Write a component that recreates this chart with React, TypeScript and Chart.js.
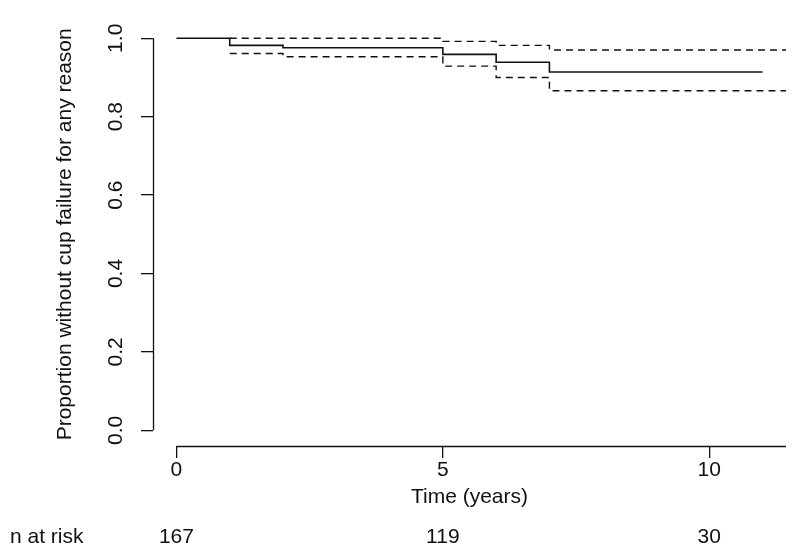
import React, { useEffect, useRef } from 'react';
import { Chart, registerables } from 'chart.js';

Chart.register(...registerables);

// Kaplan-Meier estimate (step values after each event time)
const timesEst = [0, 1, 2, 5, 6, 7, 11];
const survEst = [1, 0.982, 0.976, 0.959, 0.939, 0.914, 0.914];
// Upper confidence limit
const timesUpper = [1, 5, 6, 7, 11.44];
const survUpper = [1, 0.992, 0.982, 0.97, 0.97];
// Lower confidence limit
const timesLower = [1, 2, 5, 6, 7, 11.44];
const survLower = [0.961, 0.953, 0.929, 0.9, 0.866, 0.866];

const xTicks = [0, 5, 10];
const yTicks = [0, 0.2, 0.4, 0.6, 0.8, 1.0];
const riskTimes = [0, 5, 10];
const riskCounts = [167, 119, 30];

const X_MIN = -0.44;
const X_MAX = 11.44;
const Y_MIN = -0.04;
const Y_MAX = 1.04;

const FONT = "'Liberation Sans', Arial, Helvetica, sans-serif";
const INK = '#111111';

const toPts = (xs: number[], ys: number[]) => xs.map((x, i) => ({ x, y: ys[i] }));

const axisPlugin = {
  id: 'rAxes',
  afterDraw(chart: any) {
    const { ctx } = chart;
    const xs = chart.scales.x;
    const ys = chart.scales.y;
    ctx.save();
    ctx.strokeStyle = INK;
    ctx.lineWidth = 1.3;
    ctx.beginPath();
    // y axis line from first to last tick
    const yx = Math.round(chart.chartArea.left) + 0.5;
    ctx.moveTo(yx, ys.getPixelForValue(yTicks[0]));
    ctx.lineTo(yx, ys.getPixelForValue(yTicks[yTicks.length - 1]));
    // x axis line from 0 to the right edge
    const xy = Math.round(chart.chartArea.bottom) + 0.5;
    ctx.moveTo(xs.getPixelForValue(xTicks[0]), xy);
    ctx.lineTo(xs.getPixelForValue(X_MAX), xy);
    ctx.stroke();

    // number at risk row
    ctx.fillStyle = INK;
    ctx.font = `21px ${FONT}`;
    ctx.textBaseline = 'middle';
    ctx.textAlign = 'left';
    const rowY = 537;
    ctx.fillText('n at risk', 10, rowY);
    ctx.textAlign = 'center';
    riskTimes.forEach((t, i) => {
      ctx.fillText(String(riskCounts[i]), xs.getPixelForValue(t), rowY);
    });
    ctx.restore();
  },
};

export default function App() {
  const ref = useRef<HTMLCanvasElement | null>(null);

  useEffect(() => {
    if (!ref.current) return;
    const lineBase = {
      borderColor: INK,
      backgroundColor: INK,
      stepped: 'before' as const,
      pointRadius: 0,
      fill: false,
      tension: 0,
    };
    const chart = new Chart(ref.current, {
      type: 'line',
      data: {
        datasets: [
          { ...lineBase, label: 'Estimate', data: toPts(timesEst, survEst), borderWidth: 1.6 },
          { ...lineBase, label: 'Upper', data: toPts(timesUpper, survUpper), borderWidth: 1.4, borderDash: [7, 5] },
          { ...lineBase, label: 'Lower', data: toPts(timesLower, survLower), borderWidth: 1.4, borderDash: [7, 5] },
        ],
      },
      options: {
        responsive: false,
        animation: false,
        events: [],
        layout: { padding: { left: 0, top: 17, right: 14, bottom: 0 } },
        plugins: { legend: { display: false }, tooltip: { enabled: false }, title: { display: false } },
        scales: {
          x: {
            type: 'linear',
            min: X_MIN,
            max: X_MAX,
            afterBuildTicks: (s: any) => { s.ticks = xTicks.map((v) => ({ value: v })); },
            afterFit: (s: any) => { s.height = 108; s.paddingLeft = 0; s.paddingRight = 0; },
            border: { display: false },
            grid: { display: true, drawOnChartArea: false, drawTicks: true, tickLength: 12, color: INK, lineWidth: 1.3 },
            ticks: {
              padding: 0,
              color: INK,
              font: { family: FONT, size: 21 },
              maxRotation: 0,
              minRotation: 0,
              autoSkip: false,
              callback: (v: any) => String(v),
            },
            title: {
              display: true,
              text: 'Time (years)',
              color: INK,
              font: { family: FONT, size: 21 },
              padding: { top: 0, bottom: 44 },
            },
          },
          y: {
            type: 'linear',
            min: Y_MIN,
            max: Y_MAX,
            afterBuildTicks: (s: any) => { s.ticks = yTicks.map((v) => ({ value: v })); },
            afterFit: (s: any) => { s.width = 153; },
            border: { display: false },
            grid: { display: true, drawOnChartArea: false, drawTicks: true, tickLength: 12, color: INK, lineWidth: 1.3 },
            ticks: {
              padding: 10,
              color: INK,
              font: { family: FONT, size: 21 },
              minRotation: 90,
              maxRotation: 90,
              crossAlign: 'center',
              autoSkip: false,
              callback: (v: any) => Number(v).toFixed(1),
            },
            title: {
              display: true,
              text: 'Proportion without cup failure for any reason',
              color: INK,
              font: { family: FONT, size: 21 },
              padding: { top: 53, bottom: 0 },
            },
          },
        },
      },
      plugins: [axisPlugin],
    });
    return () => chart.destroy();
  }, []);

  return (
    <div style={{ position: 'absolute', left: 0, top: 0, width: 800, height: 554, background: '#fff' }}>
      <canvas ref={ref} width={800} height={554} style={{ width: 800, height: 554, display: 'block' }} />
    </div>
  );
}
